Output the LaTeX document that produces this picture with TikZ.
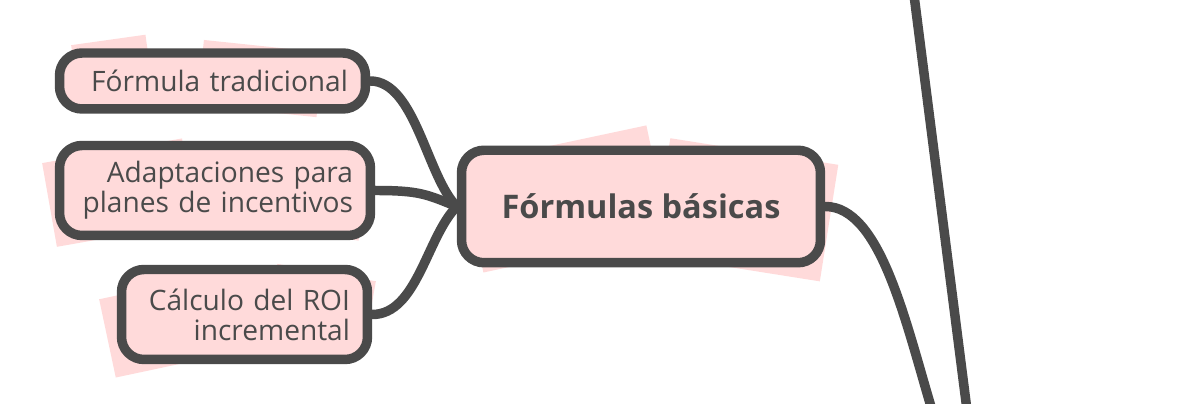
\documentclass[tikz,border=0pt]{standalone}
\usepackage{fontspec}
\setmainfont{Open Sans}
\usetikzlibrary{shapes,backgrounds}
\usetikzlibrary{positioning}

\definecolor{ink}{HTML}{4A4A4A}
\definecolor{rose}{HTML}{FFDADA}

\tikzset{
  box/.style = {draw = ink, line width = 5.4pt, fill = rose, rounded corners = 0.45cm,
                text = ink, inner xsep = 0.35cm, inner ysep = 0pt,
                font = \fontsize{16}{17}\selectfont},
  leaf/.style = {box, align = right},
  link/.style = {draw = ink, line width = 5.4pt, line cap = round},
  patch/.style = {fill = rose}
}

\begin{document}
\begin{tikzpicture}[x = 0.02cm, y = -0.02cm]
\useasboundingbox (0,0) rectangle (1188,404);

% sketchy fill sticking out of the boxes
\fill[patch, rotate around = {8:(110,70)}] (75,40) rectangle (150,100);
\fill[patch, rotate around = {-6:(250,80)}] (200,45) rectangle (320,110);
\fill[patch, rotate around = {10:(120,190)}] (48,150) rectangle (190,235);
\fill[patch, rotate around = {-8:(300,190)}] (240,150) rectangle (365,232);
\fill[patch, rotate around = {12:(170,320)}] (105,285) rectangle (250,365);
\fill[patch, rotate around = {-10:(320,310)}] (270,272) rectangle (370,350);
\fill[patch, rotate around = {12:(560,200)}] (470,145) rectangle (660,255);
\fill[patch, rotate around = {-9:(740,210)}] (660,150) rectangle (830,268);

\node[leaf, text width = 5.42cm, minimum height = 1.12cm] (tradicional) at (212.5,81)
  {Fórmula tradicional};
\node[leaf, text width = 5.52cm, minimum height = 1.8cm] (adaptaciones) at (215,190.5)
  {Adaptaciones para\\planes de incentivos};
\node[leaf, text width = 4.22cm, minimum height = 1.8cm] (roi) at (244.5,314.5)
  {Cálculo del ROI\\incremental};
\node[box, minimum width = 7.18cm, minimum height = 2.25cm, font = \fontsize{18.5}{20}\selectfont\bfseries] (formulas) at (641,206.5)
  {Fórmulas básicas};

\coordinate (down) at (932,410);
\coordinate (railtop) at (914,-5);
\coordinate (railbottom) at (967,410);

\draw[link] (tradicional.east) .. controls +(45,0) and +(-30,-30) .. (formulas.west);
\draw[link] (adaptaciones.east) .. controls +(45,0) and +(-30,-12) .. (formulas.west);
\draw[link] (roi.east) .. controls +(45,0) and +(-30,30) .. (formulas.west);
\draw[link] (formulas.east) .. controls +(55,0) and (905,320) .. (down);
\draw[link] (railtop) -- (railbottom);
\end{tikzpicture}
\end{document}
